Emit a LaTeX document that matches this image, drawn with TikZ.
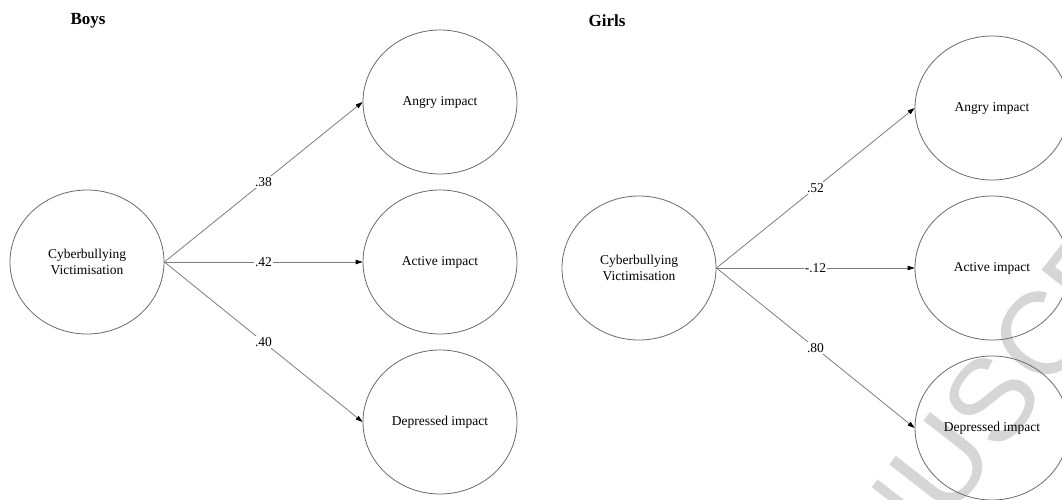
\documentclass[tikz,border=0pt]{standalone}
\usepackage{fontspec}
\setmainfont{Liberation Serif}
\newfontfamily\markfont{Liberation Sans}
\usetikzlibrary{shapes.geometric,arrows.meta}
\definecolor{edgegrey}{RGB}{125,125,125}
\definecolor{ringgrey}{RGB}{105,105,105}
\definecolor{markgrey}{RGB}{214,214,214}
\begin{document}
\begin{tikzpicture}[x=1pt,y=-1pt,
  latent/.style={ellipse,draw=ringgrey,line width=0.8pt,inner sep=0pt,
    minimum width=154pt,minimum height=144pt,align=center,
    font=\fontsize{13.5}{16}\selectfont},
  path/.style={draw=edgegrey,line width=0.8pt,
    -{Triangle[length=7pt,width=4.5pt,fill=black,color=black]}},
  coef/.style={fill=white,inner sep=1pt,font=\fontsize{13.5}{16}\selectfont},
  groupname/.style={font=\fontsize{17}{20}\selectfont\bfseries}]
\useasboundingbox (0,0) rectangle (1062,499);

% background stamp
\node[text=markgrey,rotate=52,font=\markfont\fontsize{117}{120}\selectfont,inner sep=0pt]
  (stamp) at (994,397) {MANUSCRIPT};

% Boys model
\node[groupname] (boys) at (88,21) {Boys};
\node[latent] (bcv) at (87,262) {Cyberbullying\\Victimisation};
\node[latent] (bang) at (440,102) {Angry impact};
\node[latent] (bact) at (440,262) {Active impact};
\node[latent] (bdep) at (440,422) {Depressed impact};
\draw[path] (bcv.east) -- node[coef] {.38} (bang.west);
\draw[path] (bcv.east) -- node[coef] {.42} (bact.west);
\draw[path] (bcv.east) -- node[coef] {.40} (bdep.west);

% Girls model
\node[groupname] (girls) at (607,21) {Girls};
\node[latent] (gcv) at (639,268) {Cyberbullying\\Victimisation};
\node[latent] (gang) at (992,108) {Angry impact};
\node[latent] (gact) at (992,268) {Active impact};
\node[latent] (gdep) at (992,428) {Depressed impact};
\draw[path] (gcv.east) -- node[coef] {.52} (gang.west);
\draw[path] (gcv.east) -- node[coef] {-.12} (gact.west);
\draw[path] (gcv.east) -- node[coef] {.80} (gdep.west);
\end{tikzpicture}
\end{document}
